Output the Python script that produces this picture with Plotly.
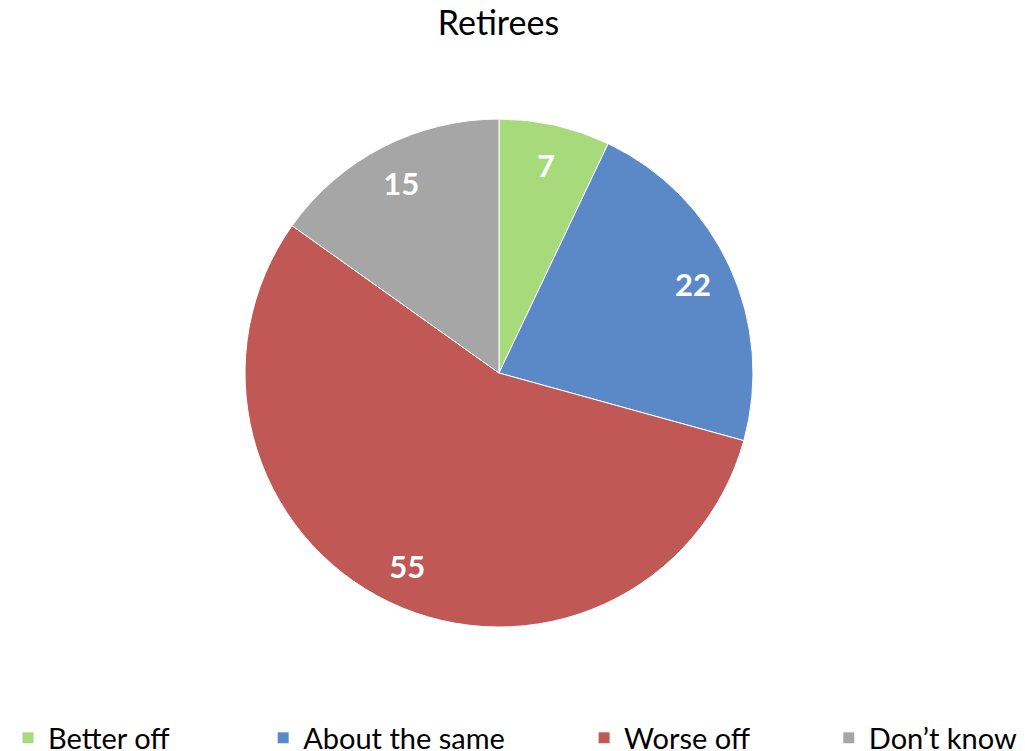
import plotly.graph_objects as go

categories = ["Better off", "About the same", "Worse off", "Don’t know"]
values = [7, 22, 55, 15]
colors = ["#A6DA7B", "#5B88C7", "#C05856", "#A6A6A6"]
title_text = "Retirees"

# the page body adds an 8px margin, so the figure is drawn 8px in from the window corner
W, H = 1017, 743
OFF = 8
cx, cy, r = 499 - OFF, 373 - OFF, 254
domain = dict(x=[(cx - r) / W, (cx + r) / W], y=[1 - (cy + r) / H, 1 - (cy - r) / H])

# trailing no-break spaces reproduce the reference's wide legend spacing
pads = [12, 10, 10, 0]
legend_labels = [c + "\u00a0" * p for c, p in zip(categories, pads)]

fig = go.Figure()
fig.add_trace(
    go.Pie(
        labels=legend_labels,
        values=values,
        sort=False,
        direction="clockwise",
        rotation=0,
        marker=dict(colors=colors, line=dict(color="white", width=1)),
        textinfo="none",
        hovertext=categories,
        hoverinfo="text+value",
        domain=domain,
    )
)
# label layer: a transparent ring so values sit at the same radius as the reference
fig.add_trace(
    go.Pie(
        labels=legend_labels,
        values=values,
        sort=False,
        direction="clockwise",
        rotation=0,
        hole=0.68,
        marker=dict(colors=["rgba(0,0,0,0)"] * len(values), line=dict(width=0)),
        textinfo="value",
        textposition="inside",
        insidetextorientation="horizontal",
        textfont=dict(family="Lato", size=31, color="white", weight="bold"),
        hoverinfo="skip",
        showlegend=False,
        domain=domain,
    )
)

fig.update_layout(
    width=W,
    height=H,
    margin=dict(l=0, r=0, t=0, b=0, autoexpand=False),
    paper_bgcolor="white",
    font=dict(family="Lato", color="black"),
    title=dict(text=title_text, x=(498.5 - OFF) / W, xref="container", xanchor="center",
               y=1 - 15 / H, yref="container", yanchor="middle",
               font=dict(family="Lato", size=34, color="black")),
    showlegend=True,
    legend=dict(
        orientation="h",
        x=0.0, xanchor="left",
        y=1 - (738 - OFF) / H, yanchor="middle",
        font=dict(family="Lato", size=29, color="black"),
    ),
)

fig.write_html("out.html")
